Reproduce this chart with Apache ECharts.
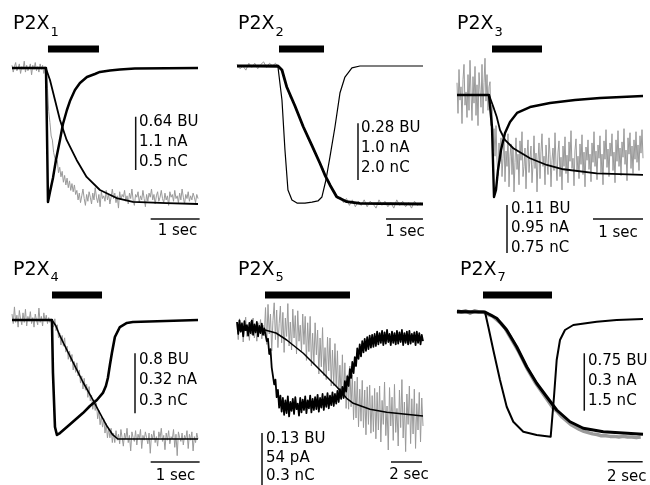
<!DOCTYPE html>
<html>
<head>
<meta charset="utf-8">
<script src="https://cdn.jsdelivr.net/npm/echarts@6/dist/echarts.min.js"></script>
<style>html,body{margin:0;padding:0;background:#fff;}#c{width:650px;height:485px;}</style>
</head>
<body>
<div id="c"></div>
<script>
// ---------- DATA (time in s; amplitude normalised: 0 = baseline, -1 = peak) ----------
const titles = ['1', '2', '3', '4', '5', '7'];
const scaleLabels = [
  ['0.64 BU', '1.1 nA', '0.5 nC'],
  ['0.28 BU', '1.0 nA', '2.0 nC'],
  ['0.11 BU', '0.95 nA', '0.75 nC'],
  ['0.8 BU', '0.32 nA', '0.3 nC'],
  ['0.13 BU', '54 pA', '0.3 nC'],
  ['0.75 BU', '0.3 nA', '1.5 nC']
];
const scaleSec = [1, 1, 1, 1, 2, 2];
const duration = [3.8, 5.03, 3.72, 3.8, 12, 10.63];
const agonist = [[0.735, 1.777], [1.136, 2.353], [0.70, 1.70], [0.817, 1.839], [1.806, 7.29], [1.486, 5.429]];

// P2X1
const p1CurT = [0,0.653,0.694,0.714,0.735,0.776,0.837,0.898,0.98,1.041,1.122,1.184,1.286,1.388,1.531,1.694,1.796,2.0,2.204,2.51,3.8];
const p1CurV = [0,0,0,-0.456,-0.985,-0.912,-0.809,-0.676,-0.529,-0.412,-0.309,-0.243,-0.162,-0.11,-0.066,-0.044,-0.029,-0.018,-0.011,-0.004,0];
const p1ChgT = [0,0.69,0.708,0.776,0.878,0.98,1.116,1.32,1.524,1.796,2.137,2.469,3.157,3.8];
const p1ChgV = [0,0,0,-0.088,-0.235,-0.382,-0.529,-0.676,-0.801,-0.897,-0.956,-0.985,-0.993,-1.0];
const p1GrayDt = 0.025;
const p1GrayPct = [2,-3,1,4,-2,0,3,-4,1,-1,5,-3,2,-2,0,3,-5,2,-1,4,-2,1,-3,3,-1,2,-4,1,
  -2,-15,-32,-40,-50,-53,-62,-61,-70,-68,-77,-73,-80,-76,-84,-79,-86,-81,-88,-83,-90,-85,-91,-86,-93,
  -90,-97,-92,-99,-94,-89,-96,-101,-93,-98,-91,-95,-100,-92,-97,-88,-95,-99,-93,-102,-91,-96,-94,-98,-90,-97,-93,-100,-95,-89,
  -96,-92,-99,-94,-103,-91,-97,-93,-95,-90,-98,-94,-100,-92,-96,-89,-97,-101,-93,-95,-91,-99,-94,-97,-90,-96,-102,-93,-98,-92,
  -95,-89,-97,-93,-100,-94,-91,-98,-95,-90,-96,-99,-92,-97,-94,-101,-91,-95,-93,-98,-90,-96,-94,-99,-92,-97,-89,-95,-100,-93,
  -96,-91,-98,-94,-97,-92,-95,-99,-93,-96];

// P2X2
const p2CurT = [0,1.108,1.216,1.297,1.378,1.486,1.622,1.838,2.027,2.189,2.297,2.405,2.514,2.649,2.784,2.919,3.108,3.324,5.03];
const p2CurV = [0,-0.007,-0.246,-0.609,-0.899,-0.971,-0.993,-0.993,-0.986,-0.978,-0.949,-0.826,-0.659,-0.442,-0.196,-0.08,-0.014,0,0];
const p2ChgT = [0,1.108,1.216,1.343,1.568,1.792,2.018,2.243,2.378,2.514,2.695,2.965,3.324,5.03];
const p2ChgV = [0,0,-0.029,-0.15,-0.29,-0.44,-0.572,-0.705,-0.79,-0.862,-0.947,-0.983,-0.995,-1.0];
const p2GrayDt = 0.08;
const p2GrayPct = [1,-2,0,-3,2,-1,2,-2,1,3,-1,2,0,2,-1,
  -2,-10,-15,-23,-25,-32,-36,-43,-46,-53,-55,-62,-65,-71,-74,-81,
  -83,-89,-91,-96,-95,-99,-96,-101,-97,-102,-98,-101,-97,-102,-98,-100,
  -103,-97,-101,-98,-102,-99,-103,-97,-101,-98,-102,-99,-103,-98,-101,-99];

// P2X3
const p3CurT = [0,0.64,0.70,0.74,0.78,0.82,0.88,0.96,1.06,1.2,1.46,1.86,2.36,2.86,3.72];
const p3CurV = [0,0,-0.314,-1.0,-0.93,-0.735,-0.54,-0.373,-0.265,-0.176,-0.118,-0.078,-0.049,-0.029,-0.01];
const p3ChgT = [0,0.64,0.726,0.794,0.86,0.96,1.126,1.46,1.794,2.126,2.794,3.72];
const p3ChgV = [0,0,-0.115,-0.213,-0.343,-0.441,-0.522,-0.62,-0.686,-0.728,-0.768,-0.784];
const p3GrayDt = 0.02;
const p3GrayPct = [12,-18,25,-5,8,-28,15,30,-10,3,-22,20,-15,34,2,-25,18,-8,28,-20,10,-30,22,5,-12,30,-18,12,36,-6,20,-15,8,
  13,-30,-10,-55,-33,-60,-30,-64,-79,-47,-65,-42,-80,
  -62,-40,-85,-55,-70,-38,-90,-60,-48,-78,-52,-95,-66,-42,-73,-58,-88,-45,-64,-36,-80,-70,-52,-92,-60,-44,-76,-62,-50,-86,
  -68,-40,-72,-57,-95,-63,-47,-82,-55,-38,-70,-60,-88,-49,-66,-78,-42,-58,-90,-64,-52,-74,-37,-68,-84,-56,-45,-80,-61,-93,
  -50,-70,-41,-77,-59,-86,-46,-65,-35,-72,-62,-89,-54,-43,-75,-60,-82,-48,-68,-39,-78,-56,-90,-51,-64,-44,-73,-58,-85,-47,
  -66,-36,-70,-55,-83,-49,-62,-40,-76,-58,-88,-45,-63,-34,-71,-53,-80,-47,-60,-38,-74,-56,-86,-44,-65,-35,-70,-52,-79,-46,
  -61,-33,-68,-54,-84,-42,-58,-37,-72,-50,-77,-44,-63,-36,-66,-49,-74,-40,-57,-34,-62];

// P2X4
const p4CurT = [0,0.816,0.837,0.878,0.918,0.98,1.122,1.286,1.449,1.592,1.735,1.857,1.918,1.959,2.0,2.041,2.102,2.204,2.347,2.469,3.8];
const p4CurV = [0,0,-0.445,-0.899,-0.966,-0.95,-0.899,-0.84,-0.782,-0.723,-0.672,-0.613,-0.555,-0.487,-0.378,-0.277,-0.143,-0.059,-0.025,-0.017,0];
const p4ChgT = [0,0.816,0.898,0.98,1.122,1.286,1.449,1.653,1.796,1.939,2.061,2.163,3.8];
const p4ChgV = [0,0,-0.05,-0.134,-0.252,-0.387,-0.521,-0.672,-0.782,-0.891,-0.966,-1.0,-1.0];
const p4GrayDt = 0.025;
const p4GrayPct = [5,-3,11,-2,4,-6,8,1,-4,6,-2,9,-5,3,-1,7,-3,2,-6,5,0,-4,10,-2,3,-5,6,-1,4,-3,2,-2,1,
  2,-6,1,-9,-4,-15,-11,-21,-13,-22,-15,-27,-22,-33,-26,-35,-29,-42,-35,-44,-36,-47,-42,-53,-47,-58,
  -49,-59,-54,-65,-56,-68,-63,-75,-67,-76,-70,-83,-76,-88,-81,-90,-83,-95,-87,-99,-91,-99,-91,-103,-95,-103,
  -93,-101,-96,-104,-92,-99,-106,-95,-100,-91,-103,-97,-110,-94,-99,-102,-93,-105,-96,-100,-92,-108,-97,-101,-94,-99,-104,-95,-112,-96,
  -100,-93,-103,-98,-106,-94,-99,-91,-102,-97,-109,-95,-101,-93,-104,-98,-100,-92,-107,-96,-114,-94,-99,-102,-95,-105,-97,-100,-93,-108,
  -96,-101,-94,-110,-98,-103,-95,-100];

// P2X5
const p5CurDt = 0.08;
const p5CurPct = [10,-5,12,-2,8,-8,11,0,6,-7,9,-4,12,-6,7,-3,10,-8,5,-4,8,-6,2,
  2,-14,-11,-30,-24,-47,-45,-68,-62,-84,-75,-97,-82,
  -102,-85,-106,-88,-104,-83,-108,-90,-101,-86,-105,-84,-99,-92,-107,-85,-103,-87,-100,-83,-104,-88,-98,-82,
  -103,-86,-100,-84,-99,-81,-102,-85,-97,-80,-100,-83,-96,-79,-98,-82,-94,-78,-95,-80,-92,-76,-90,-74,-86,
  -71,-85,-64,-77,-58,-70,-49,-60,-40,-54,-34,-45,-23,-36,-18,-33,-14,-28,-11,-26,-9,-24,-7,-22,-6,-21,-5,-20,
  -2,-18,-4,-16,-1,-19,-3,-17,0,-15,-5,-19,-2,-16,-4,-18,-1,-17,-3,-15,0,-19,-4,-16,-2,-18,-1,-17,-5,-15,-3,-19,-2,-16,-4,-18,-6,-14];
const p5ChgT = [0,1.806,2.516,3.206,4.277,5.355,6.432,7.077,7.503,8.581,9.658,12.0];
const p5ChgV = [0,0,-0.0375,-0.125,-0.291,-0.5,-0.709,-0.854,-0.916,-0.991,-1.029,-1.075];
const p5GrayDt = 0.08;
const p5GrayPct = [8,-12,14,-3,10,-15,5,16,-8,2,-13,11,-6,15,-10,4,-14,9,-2,13,-11,6,-7,
  28,-18,32,-5,20,-26,12,34,-12,25,-22,8,30,-16,22,-28,15,-8,33,-20,10,-25,26,-10,18,-30,24,-14,6,-27,20,-18,
  17,-38,9,-27,17,-45,-4,-43,9,-31,0,-55,-10,-46,3,-57,-22,-62,-9,-51,-10,-70,-25,-70,-17,-70,-26,-86,-44,-86,
  -31,-85,-41,-98,-56,-99,-45,-96,-56,-112,-64,-110,-59,-121,-74,-114,-63,-122,-75,-131,-71,-118,-69,-129,-82,-127,-73,-136,
  -78,-125,-70,-140,-88,-118,-65,-132,-95,-150,-72,-120,-84,-138,-68,-128,-98,-145,-75,-122,-62,-135,-90,-152,-80,-118,-70,-142,
  -86,-130,-74,-148,-92,-125,-78,-140,-85,-120];

// P2X7
const p6CurT = [0,1.6,1.789,2.074,2.457,2.84,3.217,3.789,4.554,5.354,5.411,5.543,5.697,5.886,6.171,6.646,7.983,9.126,10.63];
const p6CurV = [0.008,0,-0.118,-0.304,-0.544,-0.758,-0.878,-0.958,-0.984,-0.998,-0.984,-0.678,-0.384,-0.224,-0.144,-0.104,-0.078,-0.064,-0.056];
const p6ChgT = [0,1.6,2.269,2.84,3.411,3.983,4.554,5.126,5.697,6.457,7.217,8.36,10.63];
const p6ChgV = [0,0,-0.05,-0.144,-0.278,-0.438,-0.57,-0.678,-0.784,-0.878,-0.93,-0.958,-0.978];
const p6GrayDt = 0.25;
const p6GrayPct = [1,0,1,-1,1,0,0,-2,-3,-6,-9,-13,-19,-25,-31,-38,
  -45,-51,-57,-62,-67,-72,-77,-80,-84,-87,-90,-92,-94,-95.5,-96.5,-97.5,
  -98,-99,-99,-99.5,-99.5,-100,-99.5,-100,-100,-100.5,-100];

// ---------- LAYOUT (pixels / placement, not data) ----------
const gridBox = [[12,68,186,136],[237,66,186,138],[457,95,186,102],[12,320,186,119],[237,330,186,80],[457,312,186,125]];
const barLevel = [0.14, 0.123, 0.451, 0.21, 0.4375, 0.136];
const vBarAt = [[2.527,-0.358,-0.75],[3.272,-0.415,-0.826],[1.0,-1.078,-1.549],[2.513,-0.28,-0.784],[1.613,-1.2875,-1.9375],[7.274,-0.33,-0.79]];
const hBarAt = [[2.833,-1.11],[4.029,-1.109],[2.72,-1.216],[2.833,-1.193],[9.935,-1.65],[8.611,-1.198]];
const titlePos = [[13,24.5],[238,24.5],[457,24.5],[13,270],[238,270],[460,270]];
const labelPos = [[139,122,20],[361,128.5,20],[511,209,19.5],[139,360,20.5],[266,439.5,18.5],[588,361,20]];
const secPos = [[177.5,231.5],[405,232],[618,233],[175.5,476.5],[409,475.5],[626.7,477.5]];
const curWidth = [2.5, 1.2, 2.4, 2.6, 1.8, 2];
const chgWidth = [1.8, 2.8, 1.8, 1.6, 1.5, 3];
const grayWidth = [1, 1, 1, 1, 1, 3.5];

const GRAY = '#9a9a9a', BLACK = '#000';
const FONT = '"DejaVu Sans", Verdana, sans-serif';

const curT = [p1CurT, p2CurT, p3CurT, p4CurT, null, p6CurT];
const curV = [p1CurV, p2CurV, p3CurV, p4CurV, null, p6CurV];
const chgT = [p1ChgT, p2ChgT, p3ChgT, p4ChgT, p5ChgT, p6ChgT];
const chgV = [p1ChgV, p2ChgV, p3ChgV, p4ChgV, p5ChgV, p6ChgV];
const grayDt = [p1GrayDt, p2GrayDt, p3GrayDt, p4GrayDt, p5GrayDt, p6GrayDt];
const grayPct = [p1GrayPct, p2GrayPct, p3GrayPct, p4GrayPct, p5GrayPct, p6GrayPct];

function pairs(xs, ys) { return ys.map((y, i) => [xs[i], y]); }
function sampledPct(dt, ys) { return ys.map((y, i) => [+(i * dt).toFixed(4), y / 100]); }
function line(gi, data, color, width, z) {
  return { type: 'line', xAxisIndex: gi, yAxisIndex: gi, data, symbol: 'none', showSymbol: false,
    clip: false, silent: true, animation: false, z, progressive: 0,
    lineStyle: { color, width, cap: 'butt', join: 'round' } };
}
function txt(x, y, text, size, align) {
  return { type: 'text', x, y, silent: true,
    style: { text, font: size + 'px ' + FONT, fill: '#000', align, verticalAlign: 'middle', textAlign: align, textVerticalAlign: 'middle' } };
}

const grids = [], xAxes = [], yAxes = [], series = [], graphic = [];
for (let i = 0; i < 6; i++) {
  const b = gridBox[i];
  grids.push({ left: b[0], top: b[1], width: b[2], height: b[3], containLabel: false });
  xAxes.push({ gridIndex: i, type: 'value', min: 0, max: duration[i], show: false });
  yAxes.push({ gridIndex: i, type: 'value', min: -1, max: 0, show: false });
  series.push(line(i, sampledPct(grayDt[i], grayPct[i]), GRAY, grayWidth[i], 1));
  const cur = i === 4 ? sampledPct(p5CurDt, p5CurPct) : pairs(curT[i], curV[i]);
  series.push(line(i, cur, BLACK, curWidth[i], 2));
  series.push(line(i, pairs(chgT[i], chgV[i]), BLACK, chgWidth[i], 3));
  // agonist application bar
  series.push(line(i, [[agonist[i][0], barLevel[i]], [agonist[i][1], barLevel[i]]], BLACK, 7, 4));
  // scale bars
  const v = vBarAt[i];
  series.push(line(i, [[v[0], v[1]], [v[0], v[2]]], '#111', 1.5, 4));
  const h = hBarAt[i];
  series.push(line(i, [[h[0], h[1]], [h[0] + scaleSec[i], h[1]]], '#111', 1.5, 4));

  const tp = titlePos[i];
  graphic.push(txt(tp[0], tp[1], 'P2X', 19, 'left'));
  graphic.push(txt(tp[0] + 37.5, tp[1] + 8, titles[i], 13, 'left'));
  const lp = labelPos[i];
  scaleLabels[i].forEach((s, k) => graphic.push(txt(lp[0], lp[1] + k * lp[2], s, 15, 'left')));
  const sp = secPos[i];
  graphic.push(txt(sp[0], sp[1], scaleSec[i] + ' sec', 15, 'center'));
}

const chart = echarts.init(document.getElementById('c'), null, { renderer: 'canvas' });
chart.setOption({
  animation: false,
  backgroundColor: '#fff',
  grid: grids, xAxis: xAxes, yAxis: yAxes, series, graphic
});
</script>
</body>
</html>
